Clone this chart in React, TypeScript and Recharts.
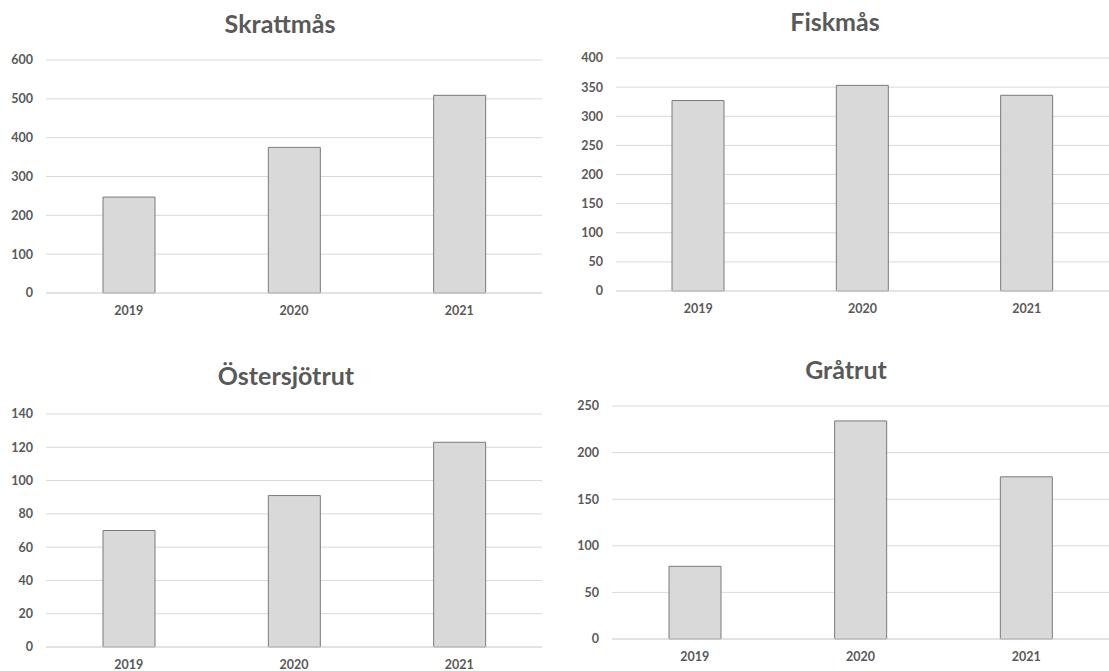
import { BarChart, Bar, XAxis, YAxis, CartesianGrid } from "recharts";

const years = ["2019", "2020", "2021"];

const skrattmas = [247, 375, 509];
const fiskmas = [327, 353, 336];
const ostersjotrut = [70, 91, 123];
const gratrut = [78, 234, 174];

const skrattmasTicks = [0, 100, 200, 300, 400, 500, 600];
const fiskmasTicks = [0, 50, 100, 150, 200, 250, 300, 350, 400];
const ostersjotrutTicks = [0, 20, 40, 60, 80, 100, 120, 140];
const gratrutTicks = [0, 50, 100, 150, 200, 250];

const FONT = "Lato, 'Open Sans', sans-serif";
const TEXT = "#595959";
const GRID = "#d9d9d9";

interface PanelProps {
  title: string;
  values: number[];
  ticks: number[];
  left: number;
  top: number;
  width: number;
  height: number;
  yWidth: number;
  marginTop: number;
  marginRight: number;
  marginBottom: number;
  titleX: number;
  titleY: number;
}

function GullPanel(p: PanelProps) {
  const data = years.map((year, i) => ({ year, count: p.values[i] }));
  const max = p.ticks[p.ticks.length - 1];
  const tickStyle = { fill: TEXT, fontSize: 12.5, fontWeight: 700, fontFamily: FONT };
  return (
    <div style={{ position: "absolute", left: p.left, top: p.top, width: p.width, height: p.height }}>
      <BarChart
        width={p.width}
        height={p.height}
        data={data}
        margin={{ top: p.marginTop, right: p.marginRight, bottom: p.marginBottom, left: 0 }}
      >
        <CartesianGrid vertical={false} stroke={GRID} />
        <XAxis
          dataKey="year"
          stroke={GRID}
          tickLine={false}
          tickSize={0}
          tickMargin={13}
          height={24}
          tick={tickStyle}
        />
        <YAxis
          domain={[0, max]}
          ticks={p.ticks}
          width={p.yWidth}
          axisLine={false}
          tickLine={false}
          tickSize={0}
          tickMargin={13}
          tick={tickStyle}
        />
        <Bar dataKey="count" fill="#d9d9d9" stroke="#7a7a7a" strokeWidth={1} barSize={52} isAnimationActive={false} />
      </BarChart>
      {/* chart title */}
      <svg
        width={p.width}
        height={p.height}
        style={{ position: "absolute", left: 0, top: 0, pointerEvents: "none" }}
      >
        <text
          x={p.titleX - p.left}
          y={p.titleY - p.top}
          textAnchor="middle"
          fill={TEXT}
          fontFamily={FONT}
          fontWeight={700}
          fontSize={25}
        >
          {p.title}
        </text>
      </svg>
    </div>
  );
}

export default function App() {
  return (
    <div style={{ position: "absolute", left: 0, top: 0, width: 1109, height: 671, background: "#fff", overflow: "hidden" }}>
      <GullPanel
        title="Skrattmås"
        values={skrattmas}
        ticks={skrattmasTicks}
        left={0}
        top={0}
        width={555}
        height={335}
        yWidth={46}
        marginTop={60}
        marginRight={13}
        marginBottom={18}
        titleX={280}
        titleY={33}
      />
      <GullPanel
        title="Fiskmås"
        values={fiskmas}
        ticks={fiskmasTicks}
        left={555}
        top={0}
        width={554}
        height={335}
        yWidth={61}
        marginTop={58}
        marginRight={0}
        marginBottom={20}
        titleX={835}
        titleY={31}
      />
      <GullPanel
        title="Östersjötrut"
        values={ostersjotrut}
        ticks={ostersjotrutTicks}
        left={0}
        top={340}
        width={555}
        height={331}
        yWidth={46}
        marginTop={74}
        marginRight={13}
        marginBottom={0}
        titleX={286}
        titleY={385}
      />
      <GullPanel
        title="Gråtrut"
        values={gratrut}
        ticks={gratrutTicks}
        left={555}
        top={340}
        width={554}
        height={331}
        yWidth={57}
        marginTop={66}
        marginRight={0}
        marginBottom={8}
        titleX={846}
        titleY={379}
      />
    </div>
  );
}
